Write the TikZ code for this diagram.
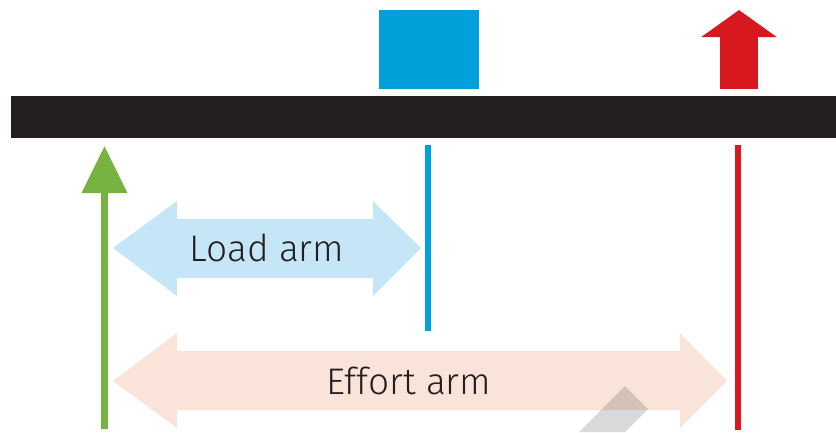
\documentclass[tikz,border=0pt]{standalone}
\usepackage{fontspec}
\newfontfamily\armfont{Fira Sans Light}
\usetikzlibrary{arrows.meta, positioning, calc}
\definecolor{beamblack}{HTML}{231F20}
\definecolor{loadblue}{HTML}{00A0DA}
\definecolor{effortred}{HTML}{D7191F}
\definecolor{pivotgreen}{HTML}{77B341}
\definecolor{loadarmblue}{HTML}{C5E6F6}
\definecolor{effortarmpeach}{HTML}{FAE3D9}

\begin{document}
\begin{tikzpicture}[x=1pt, y=-1pt,
    armlabel/.style={font=\armfont\fontsize{37}{40}\selectfont, text=beamblack, inner sep=0pt},
    marker/.style={line width=6pt}]
            \useasboundingbox (0,0) rectangle (836,432);

            % beam and load
            \node[fill=beamblack, minimum width=825pt, minimum height=42pt, inner sep=0pt] (beam) at (423.5,117) {};
            \node[fill=loadblue, minimum width=100pt, minimum height=79pt, inner sep=0pt] (load) at (429,49.5) {};

            % effort pushes up
            \coordinate (effortbase) at (739,89);
            \coordinate (efforttip) at (739,10);
            \draw[effortred, line width=38pt, -{Triangle[width=74pt, length=27pt]}] (effortbase) -- (efforttip);

            % fulcrum arrow and the two lines
            \coordinate (pivotbase) at (104.5,429);
            \coordinate (pivottip) at (104.5,146);
            \draw[pivotgreen, line width=7pt, -{Triangle[width=44pt, length=47pt]}] (pivotbase) -- (pivottip);
            \coordinate (loadtop) at (428,145);
            \coordinate (loadbottom) at (428,331);
            \draw[marker, loadblue] (loadtop) -- (loadbottom);
            \coordinate (efforttop) at (738,145);
            \coordinate (effortbottom) at (738,430);
            \draw[marker, effortred] (efforttop) -- (effortbottom);

            % load arm
            \fill[loadarmblue] (113,248) -- (177,201) -- (177,219) -- (373,219) -- (373,201)
                -- (421,248) -- (373,296) -- (373,278) -- (177,278) -- (177,296) -- cycle;
            \node[armlabel] (loadarm) at (267,248) {Load arm};

            % effort arm
            \fill[effortarmpeach] (113,381) -- (177,333) -- (177,351) -- (680,351) -- (680,333)
                -- (727,381) -- (680,428) -- (680,410) -- (177,410) -- (177,428) -- cycle;
            \node[armlabel] (effortarm) at (409,381) {Effort arm};

            \fill[black, fill opacity=0.15] (579,432) -- (625,386) -- (648,409) -- (625,432) -- cycle;
        \end{tikzpicture}
\end{document}
